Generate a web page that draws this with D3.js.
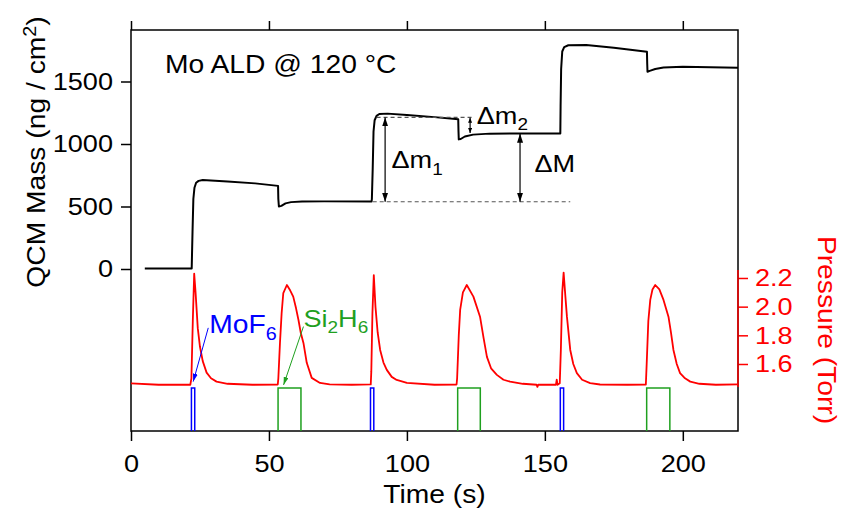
<!DOCTYPE html>
<html>
<head>
<meta charset="utf-8">
<script src="https://cdn.jsdelivr.net/npm/d3@7"></script>
<style>
  html, body { margin: 0; padding: 0; background: #fff; }
  svg { display: block; font-family: 'Liberation Sans', Arial, sans-serif; }
</style>
</head>
<body>
<div id="chart"></div>
<script>
// QCM mass trace (time s, mass ng/cm2)
const massTime = [5, 22.0, 22.3, 22.6, 23.0, 23.6, 24.5, 26, 35, 45, 53.3, 53.4, 53.6, 54.5, 56, 58, 62, 70, 87.2,
  87.3, 87.6, 87.9, 88.3, 89, 90, 93, 100, 110, 118.6, 118.7, 118.8, 119.5, 121, 124, 130, 155.6,
  155.7, 155.9, 156.3, 157, 158.5, 165, 175, 187, 187.1, 187.2, 188, 190, 193, 200, 210, 220];
const massValue = [5, 5, 300, 560, 650, 690, 705, 712, 700, 685, 665, 560, 500, 505, 525, 535, 540, 541, 540,
  560, 800, 1100, 1190, 1225, 1240, 1243, 1232, 1215, 1198, 1100, 1037, 1040, 1060, 1075, 1083, 1085,
  1300, 1600, 1740, 1775, 1790, 1792, 1770, 1738, 1640, 1578, 1585, 1600, 1612, 1618, 1614, 1610];

// chamber pressure trace (time s, pressure Torr)
const pressTime = [0, 10, 21.5, 21.9, 22.4, 22.9, 23.4, 24.2, 25, 26, 27.4, 29, 31, 35, 44, 53.2,
  53.4, 54, 54.6, 55.2, 56.5, 57.5, 58.8, 59.8, 60.7, 61.5, 62.5, 63.7, 65.5, 68.5, 72, 80, 86.9,
  87.1, 87.5, 88.0, 88.6, 89.4, 90.3, 91.5, 92.7, 94.5, 96.3, 100, 110, 118,
  118.2, 118.8, 119.3, 120.3, 121.7, 124.1, 126.5, 127.8, 129, 130.5, 132.6, 135, 137.4, 142, 147, 147.3, 147.6, 154, 154.3, 154.6, 155.4,
  155.8, 156.3, 156.8, 157.4, 158, 159.2, 160.3, 161.6, 163.5, 166.4, 170, 180, 186.6,
  186.9, 187.5, 188.2, 189, 190, 191.5, 193, 194.8, 195.7, 196.6, 197.8, 199, 200.8, 202.7, 206, 212, 220];
const pressValue = [1.465, 1.455, 1.455, 1.5, 1.9, 2.23, 2.1, 1.85, 1.72, 1.62, 1.54, 1.5, 1.477, 1.462, 1.455, 1.457,
  1.5, 1.75, 1.956, 2.095, 2.151, 2.12, 2.07, 1.99, 1.907, 1.82, 1.747, 1.608, 1.503, 1.468, 1.458, 1.455, 1.458,
  1.55, 1.95, 2.22, 2.0, 1.82, 1.698, 1.61, 1.559, 1.51, 1.489, 1.468, 1.455, 1.457,
  1.5, 1.8, 1.977, 2.1, 2.151, 2.07, 1.93, 1.78, 1.65, 1.57, 1.524, 1.49, 1.477, 1.462, 1.455, 1.44, 1.455, 1.455, 1.49, 1.455, 1.465,
  1.7, 2.1, 2.237, 2.08, 1.93, 1.698, 1.6, 1.536, 1.49, 1.466, 1.457, 1.455, 1.457,
  1.6, 1.9, 2.047, 2.12, 2.151, 2.12, 2.047, 1.93, 1.82, 1.698, 1.6, 1.536, 1.5, 1.477, 1.462, 1.455, 1.458];

// valve pulses (start, end in s)
const mofPulses = [[21.9, 23.1], [86.8, 88.0], [155.6, 156.8]];
const si2h6Pulses = [[53.3, 61.6], [118.4, 126.6], [186.9, 195.3]];

const timeTicks = [0, 50, 100, 150, 200];
const massTicks = [0, 500, 1000, 1500];
const pressTicks = [1.6, 1.8, 2.0, 2.2];

const width = 844, height = 516;
const margin = { left: 131, top: 30, right: 106, bottom: 85 };
const K = 1.13; // horizontal text stretch
const red = '#ff0000', blue = '#0000ff', green = '#1fa01f';

const svg = d3.select('#chart').append('svg')
  .attr('width', width).attr('height', height);

const x = d3.scaleLinear().domain([0, 220]).range([margin.left, width - margin.right]);
const yM = d3.scaleLinear().domain([-1296, 1912]).range([height - margin.bottom, margin.top]);
const yP = d3.scaleLinear().domain([1.1325, 3.930]).range([height - margin.bottom, margin.top]);
const yV = d3.scaleLinear().domain([0, 1]).range([height - margin.bottom, 388]);

const defs = svg.append('defs');
function marker(id, color, len, wid) {
  defs.append('marker')
    .attr('id', id)
    .attr('markerUnits', 'userSpaceOnUse')
    .attr('viewBox', `0 0 ${len} ${wid}`)
    .attr('markerWidth', len).attr('markerHeight', wid)
    .attr('refX', len).attr('refY', wid / 2)
    .attr('orient', 'auto-start-reverse')
    .append('path')
    .attr('d', `M0,0L${len},${wid / 2}L0,${wid}Z`)
    .attr('fill', color);
}
marker('ak', '#000', 9, 6);
marker('aks', '#000', 5, 4);
marker('ab', blue, 8, 5);
marker('ag', green, 8, 5);

function stretchAxis(g) {
  g.selectAll('text')
    .attr('x', function () { return (+d3.select(this).attr('x') || 0) / K; })
    .attr('transform', `scale(${K},1)`);
}

// axes
const axisBottomG = svg.append('g')
  .attr('transform', `translate(0,${height - margin.bottom})`)
  .call(d3.axisBottom(x).tickValues(timeTicks).tickSize(10).tickPadding(14));
const axisTopG = svg.append('g')
  .attr('transform', `translate(0,${margin.top})`)
  .call(d3.axisTop(x).tickValues(timeTicks).tickSize(9).tickFormat(''));
const axisLeftG = svg.append('g')
  .attr('transform', `translate(${margin.left},0)`)
  .call(d3.axisLeft(yM).tickValues(massTicks).tickSize(10).tickPadding(8).tickFormat(d3.format('d')));
const axisRightG = svg.append('g')
  .attr('transform', `translate(${width - margin.right},0)`)
  .call(d3.axisRight(yP).tickValues(pressTicks).tickSize(10).tickPadding(7).tickFormat(d3.format('.1f')));

[axisBottomG, axisTopG, axisLeftG, axisRightG].forEach((g) => {
  g.select('.domain').remove();
  g.selectAll('line').attr('stroke-width', 1.5);
  g.selectAll('text').attr('font-size', 24).attr('fill', '#000');
  g.attr('font-family', null).attr('font-size', null);
  stretchAxis(g);
});
axisRightG.selectAll('line').attr('stroke', red);
axisRightG.selectAll('text').attr('fill', red);

// frame
svg.append('rect')
  .attr('x', margin.left).attr('y', margin.top)
  .attr('width', width - margin.left - margin.right)
  .attr('height', height - margin.top - margin.bottom)
  .attr('fill', 'none').attr('stroke', '#000').attr('stroke-width', 1.5);
svg.append('line')
  .attr('x1', x(220)).attr('x2', x(220))
  .attr('y1', yP(1.44)).attr('y2', yP(2.256))
  .attr('stroke', red).attr('stroke-width', 1.5);

// valve pulses
const pulsePath = ([a, b]) => `M${x(a)},${yV(0)}V${yV(1)}H${x(b)}V${yV(0)}`;
svg.append('g').selectAll('path').data(mofPulses).join('path')
  .attr('d', pulsePath).attr('fill', 'none').attr('stroke', blue).attr('stroke-width', 1.5);
svg.append('g').selectAll('path').data(si2h6Pulses).join('path')
  .attr('d', pulsePath).attr('fill', 'none').attr('stroke', green).attr('stroke-width', 1.5);

// pressure
const pressLine = d3.line().x((d, i) => x(pressTime[i])).y((d) => yP(d));
svg.append('path')
  .attr('d', pressLine(pressValue))
  .attr('fill', 'none').attr('stroke', red).attr('stroke-width', 1.8).attr('stroke-linejoin', 'round');

// mass
const massLine = d3.line().x((d, i) => x(massTime[i])).y((d) => yM(d));
svg.append('path')
  .attr('d', massLine(massValue))
  .attr('fill', 'none').attr('stroke', '#000').attr('stroke-width', 2).attr('stroke-linejoin', 'round');

// dashed guides
const guides = svg.append('g').attr('stroke', '#555').attr('stroke-width', 1.2).attr('stroke-dasharray', '4,3');
guides.append('line').attr('x1', x(89)).attr('x2', x(123.5)).attr('y1', yM(1213)).attr('y2', yM(1213));
guides.append('line').attr('x1', x(87.6)).attr('x2', x(159.2)).attr('y1', yM(538)).attr('y2', yM(538));

// double arrows
function vArrow(t, m0, m1, mk) {
  svg.append('line')
    .attr('x1', x(t)).attr('x2', x(t)).attr('y1', yM(m0)).attr('y2', yM(m1))
    .attr('stroke', '#000').attr('stroke-width', 1.2)
    .attr('marker-start', `url(#${mk})`).attr('marker-end', `url(#${mk})`);
}
vArrow(92.1, 1213, 538, 'ak');
vArrow(141.0, 1083, 538, 'ak');
vArrow(122.9, 1210, 1088, 'aks');

// text helper: parts = [[string, 'sub'|'sup'|null]]
function label(px, py, parts, opts = {}) {
  const size = opts.size || 24;
  const rot = opts.rotate ? ` rotate(${opts.rotate})` : '';
  const t = svg.append('text')
    .attr('transform', `translate(${px},${py})${rot} scale(${K},1)`)
    .attr('font-size', size)
    .attr('fill', opts.color || '#000')
    .attr('text-anchor', opts.anchor || 'start');
  let shift = 0;
  parts.forEach(([s, kind]) => {
    const target = kind === 'sub' ? size * 0.27 : kind === 'sup' ? -size * 0.38 : 0;
    t.append('tspan')
      .attr('dy', target - shift)
      .attr('font-size', kind ? size * 0.7 : size)
      .text(s);
    shift = target;
  });
  return t;
}

label(165, 73, [['Mo ALD @ 120 °C']], { size: 25 });
label(x(94.4), yM(806), [['Δm'], ['1', 'sub']]);
label(x(125.3), yM(1160), [['Δm'], ['2', 'sub']]);
label(x(146.2), yM(778), [['ΔM']]);

// precursor labels with arrows
svg.append('line')
  .attr('x1', x(28.0)).attr('y1', yP(1.852)).attr('x2', x(22.55)).attr('y2', yP(1.477))
  .attr('stroke', blue).attr('stroke-width', 1).attr('marker-end', 'url(#ab)');
svg.append('line')
  .attr('x1', x(62.5)).attr('y1', yP(1.861)).attr('x2', x(55.3)).attr('y2', yP(1.454))
  .attr('stroke', green).attr('stroke-width', 1).attr('marker-end', 'url(#ag)');
label(x(28.4), yP(1.815), [['MoF'], ['6', 'sub']], { size: 25, color: blue });
label(x(62.5), yP(1.861), [['Si'], ['2', 'sub'], ['H'], ['6', 'sub']], { color: green });

// axis titles
label((x(0) + x(220)) / 2, 503, [['Time (s)']], { size: 25, anchor: 'middle' });
label(45, 152, [['QCM Mass (ng / cm'], ['2', 'sup'], [')']], { size: 25, anchor: 'middle', rotate: -90 });
label(818, 330, [['Pressure (Torr)']], { size: 25, anchor: 'middle', rotate: 90, color: red });
</script>
</body>
</html>
